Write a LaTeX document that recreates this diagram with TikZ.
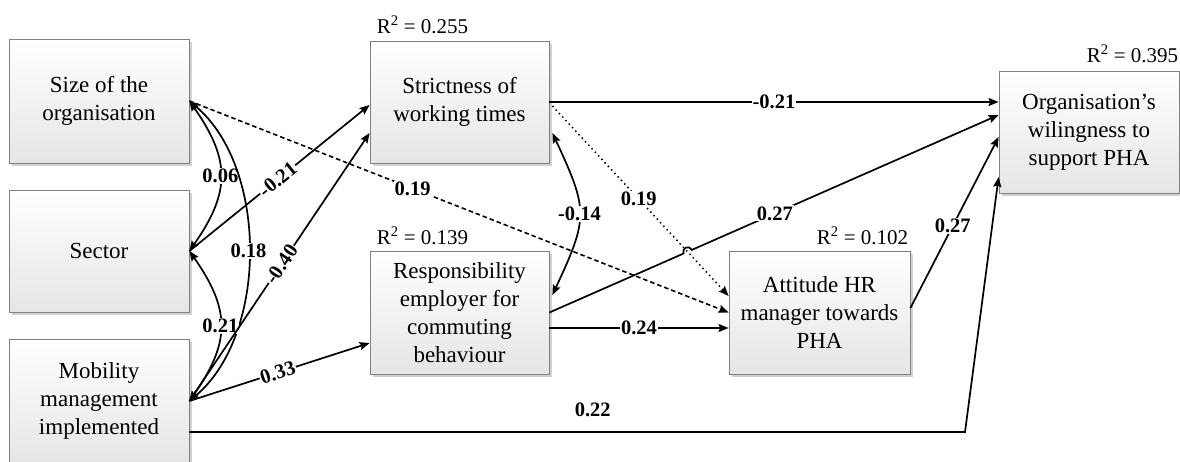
\documentclass[tikz,border=0pt]{standalone}
\usepackage{fontspec}
\setmainfont{Liberation Serif}
\usetikzlibrary{arrows.meta,calc,shadows}
\begin{document}
\begin{tikzpicture}[x=1pt,y=1pt,
  box/.style={draw=black!50, line width=0.8pt, top color=white, bottom color=black!10,
    minimum width=180pt, align=center, inner sep=0pt,
    font=\fontsize{23}{28}\selectfont,
    drop shadow={shadow xshift=3pt, shadow yshift=-3pt, fill=black!18, opacity=1}},
  conn/.style={line width=1.7pt, -{Stealth[length=10pt,width=8pt,inset=1.5pt]}},
  both/.style={line width=1.7pt, {Stealth[length=10pt,width=8pt,inset=1.5pt]}-{Stealth[length=10pt,width=8pt,inset=1.5pt]}},
  dashconn/.style={conn, line width=1.6pt, dash pattern=on 4.5pt off 3pt},
  dotconn/.style={conn, line width=1.5pt, dash pattern=on 1.5pt off 3.3pt},
  lbl/.style={font=\fontsize{20.5}{22}\selectfont\bfseries, fill=white, inner sep=1pt},
  rsq/.style={font=\fontsize{21}{24}\selectfont, inner sep=0pt}]
\useasboundingbox (0,0) rectangle (1180,461);

% boxes
\node[box, minimum height=124pt] (size) at (99,360) {Size of the\\organisation};
\node[box, minimum height=122pt] (sector) at (99,210) {Sector};
\node[box, minimum height=124pt] (mob) at (99,60) {Mobility\\management\\implemented};
\node[box, minimum width=179pt, minimum height=122pt] (strict) at (459.5,359) {Strictness of\\working times};
\node[box, minimum width=179pt, minimum height=123pt] (resp) at (459.5,148.5) {Responsibility\\employer for\\commuting\\behaviour};
\node[box, minimum width=181pt, minimum height=123pt] (att) at (819.5,148.5) {Attitude HR\\manager towards\\PHA};
\node[box, minimum height=122pt] (org) at (1089,329) {Organisation’s\\wilingness to\\support PHA};

% R squared
\node[rsq, anchor=south west] (r1) at ($(strict.north west)+(7,7)$) {R\textsuperscript{2} = 0.255};
\node[rsq, anchor=south west] (r2) at ($(resp.north west)+(7,6)$) {R\textsuperscript{2} = 0.139};
\node[rsq, anchor=south east] (r3) at ($(att.north east)+(-2,6)$) {R\textsuperscript{2} = 0.102};
\node[rsq, anchor=south east] (r4) at ($(org.north east)+(-1,8)$) {R\textsuperscript{2} = 0.395};

% helper coordinates
\coordinate (dotS) at ($(strict.east)+(3,-4)$);
\coordinate (dotE) at ($(att.west)+(0,16.5)$);
\coordinate (orgB) at ($(org.west)+(0,17)$);
\coordinate (c22a) at ($(mob.east)+(0,-31)$);
\coordinate (c22b) at (965,29);
\coordinate (orgD) at ($(org.west)+(0,-45)$);
\coordinate (X) at (intersection of resp.east--orgB and dotS--dotE);

% correlations (curved, double-headed)
\draw[both] (size.east) to[out=-55,in=55,looseness=1.23] node[lbl]{0.06} (sector.east);
\draw[both] (size.east) to[out=-40,in=40,looseness=0.88] node[lbl]{0.18} (mob.east);
\draw[both] (sector.east) to[out=-55,in=55,looseness=1.23] node[lbl]{0.21} (mob.east);
\draw[both] ($(strict.east)+(3,-31)$) to[out=-65,in=65,looseness=1.35] node[lbl]{-0.14} ($(resp.east)+(3,17.5)$);

% paths
\draw[conn] (sector.east) -- node[lbl, sloped, pos=0.49]{-0.21} ($(strict.west)+(0,-3)$);
\draw[conn] (mob.east) -- node[lbl, sloped, pos=0.51]{-0.40} ($(strict.west)+(0,-31)$);
\draw[conn] (mob.east) -- node[lbl, sloped, pos=0.49]{0.33} ($(resp.west)+(0,-30.5)$);
\draw[dashconn] (size.east) -- node[lbl, pos=0.414]{0.19} (att.west);
\draw[dotconn] (dotS) -- node[lbl, pos=0.49]{0.19} (dotE);
\draw[conn] (strict.east) -- node[lbl]{-0.21} (strict.east -| org.west);
\draw[conn] (resp.east) -- ($(X)!4.5pt!(resp.east)$) arc[start angle=203.7, end angle=23.7, radius=4.5pt] -- (orgB);
\node[lbl] (l27a) at ($(resp.east)!0.502!(orgB)$) {0.27};
\draw[conn] ($(resp.east)+(0,-15.5)$) -- node[lbl]{0.24} ($(att.west)+(0,-15.5)$);
\draw[conn] ($(att.east)+(0,4.5)$) -- node[lbl, pos=0.48]{0.27} ($(org.west)+(0,-5)$);
\draw[conn] (c22a) -- node[lbl, fill=none, pos=0.52, yshift=22pt]{0.22} (c22b) -- (orgD);
\end{tikzpicture}
\end{document}
